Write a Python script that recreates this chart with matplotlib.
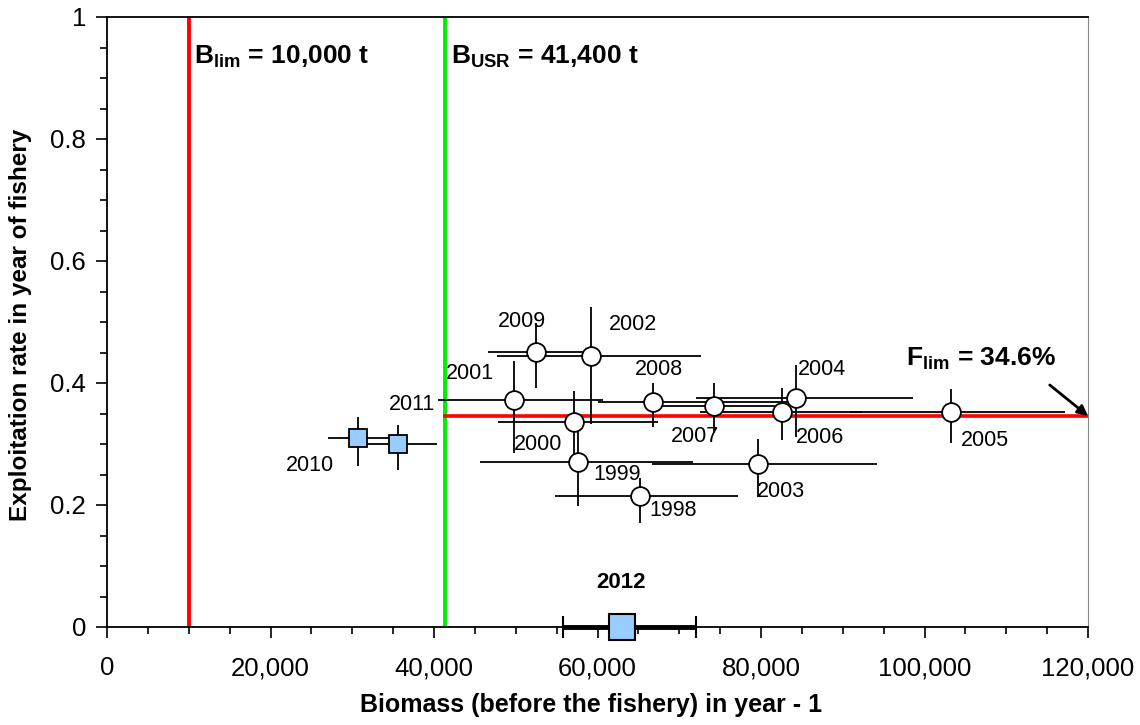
import numpy as np
import matplotlib
matplotlib.use("Agg")
import matplotlib.pyplot as plt
from matplotlib.ticker import MultipleLocator, FuncFormatter

plt.rcParams['font.family'] = ['Liberation Sans', 'DejaVu Sans']
plt.rcParams['mathtext.fontset'] = 'custom'
plt.rcParams['mathtext.bf'] = 'Liberation Sans:bold'
plt.rcParams['mathtext.rm'] = 'Liberation Sans'

# biomass (t) and exploitation rate by year, with lower/upper bounds
years = [1998, 1999, 2000, 2001, 2002, 2003, 2004, 2005, 2006, 2007, 2008, 2009]
biomass = [65200, 57600, 57100, 49800, 59200, 79600, 84300, 103300, 82600, 74200, 66800, 52500]
b_lo = [54800, 45600, 47800, 40500, 47700, 66700, 72000, 90900, 72500, 66000, 60000, 46600]
b_hi = [77200, 71700, 67400, 60700, 72600, 94200, 98600, 117200, 92400, 82600, 83500, 59000]
expl = [0.215, 0.270, 0.336, 0.372, 0.444, 0.267, 0.375, 0.352, 0.352, 0.362, 0.369, 0.451]
f_lo = [0.170, 0.198, 0.275, 0.285, 0.333, 0.213, 0.311, 0.302, 0.307, 0.318, 0.328, 0.392]
f_hi = [0.245, 0.335, 0.387, 0.436, 0.525, 0.308, 0.430, 0.390, 0.392, 0.400, 0.400, 0.498]

# recent years (squares)
years_sq = [2010, 2011]
biomass_sq = [30700, 35600]
bsq_lo = [27000, 31500]
bsq_hi = [34800, 40400]
expl_sq = [0.310, 0.300]
fsq_lo = [0.264, 0.257]
fsq_hi = [0.344, 0.331]

# current year biomass only
year_now = 2012
biomass_now = 63000
bnow_lo = 55800
bnow_hi = 72000

b_lim = 10000
b_usr = 41400
f_lim = 0.346

# label offsets in pixels
lab_off = {1998: (33, -15), 1999: (39, -12), 2000: (-36, -22), 2001: (-44, 27),
           2002: (42, 32), 2003: (23, -27), 2004: (26, 29), 2005: (33, -28),
           2006: (38, -25), 2007: (-19, -30), 2008: (6, 32), 2009: (-14, 30),
           2010: (-48, -28), 2011: (14, 40)}

fig = plt.figure(figsize=(11.4, 7.25), dpi=100)
ax = fig.add_axes([107/1140, 98/725, 981/1140, 610/725])

ax.axvline(b_lim, color='#ff0000', lw=2.8, zorder=2)
ax.axvline(b_usr, color='#00ee00', lw=2.8, zorder=2)
ax.plot([b_usr, 120000], [f_lim, f_lim], color='#ff0000', lw=2.6, zorder=2)

b = np.array(biomass); e = np.array(expl)
xerr = [b - np.array(b_lo), np.array(b_hi) - b]
yerr = [e - np.array(f_lo), np.array(f_hi) - e]
ax.errorbar(b, e, xerr=xerr, yerr=yerr, fmt='o', ms=13.5, mfc='white', mec='black',
            mew=1.3, ecolor='black', elinewidth=1.3, capsize=0, zorder=4)

bs = np.array(biomass_sq); es = np.array(expl_sq)
xerr = [bs - np.array(bsq_lo), np.array(bsq_hi) - bs]
yerr = [es - np.array(fsq_lo), np.array(fsq_hi) - es]
ax.errorbar(bs, es, xerr=xerr, yerr=yerr, fmt='s', ms=13.5, mfc='#99ccff', mec='black',
            mew=1.3, ecolor='black', elinewidth=1.3, capsize=0, zorder=4)

ax.errorbar([biomass_now], [0], xerr=[[biomass_now - bnow_lo], [bnow_hi - biomass_now]],
            fmt='s', ms=19, mfc='#99ccff', mec='black', mew=1.5, ecolor='black',
            elinewidth=3.5, capsize=8, capthick=3.5, zorder=5, clip_on=False)

for yr, x, y in zip(years + years_sq, biomass + biomass_sq, expl + expl_sq):
    ax.annotate(str(yr), (x, y), xytext=lab_off[yr], textcoords='offset pixels',
                ha='center', va='center', fontsize=15.5)
ax.annotate(str(year_now), (biomass_now, 0), xytext=(-1, 45), textcoords='offset pixels',
            ha='center', va='center', fontsize=16, fontweight='bold')

ax.text(b_lim + 700, 0.935, r'$\mathbf{B_{lim}}$ = 10,000 t', fontsize=19,
        fontweight='bold', va='center', ha='left')
ax.text(b_usr + 700, 0.935, r'$\mathbf{B_{USR}}$ = 41,400 t', fontsize=19,
        fontweight='bold', va='center', ha='left')
ax.annotate(r'$\mathbf{F_{lim}}$ = 34.6%', xy=(120000, f_lim), xytext=(106900, 0.44),
            fontsize=19, fontweight='bold', ha='center', va='center',
            arrowprops=dict(arrowstyle='-|>', color='black', lw=2, mutation_scale=15,
                            shrinkA=12, shrinkB=0, relpos=(0.85, 0)))

ax.set_xlim(0, 120000)
ax.set_ylim(0, 1)
ax.xaxis.set_major_locator(MultipleLocator(20000))
ax.xaxis.set_minor_locator(MultipleLocator(5000))
ax.yaxis.set_major_locator(MultipleLocator(0.2))
ax.yaxis.set_minor_locator(MultipleLocator(0.05))
ax.xaxis.set_major_formatter(FuncFormatter(lambda v, p: f'{v:,.0f}'))
ax.yaxis.set_major_formatter(FuncFormatter(lambda v, p: f'{v:g}'))
ax.tick_params(which='both', direction='out', labelsize=18.5, width=1.2)
ax.tick_params(which='major', length=8)
ax.tick_params(which='minor', length=5)
ax.tick_params(axis='x', which='major', pad=13)
ax.tick_params(axis='y', which='major', pad=7)
ax.spines['right'].set_color('#888888')
for s in ['left', 'bottom', 'top']:
    ax.spines[s].set_linewidth(1.3)

fig.text(591/1140, 1 - 705/725, 'Biomass (before the fishery) in year - 1', fontsize=18,
         fontweight='bold', ha='center', va='center')
fig.text(21/1140, 1 - 325/725, 'Exploitation rate in year of fishery', fontsize=17.5,
         fontweight='bold', ha='center', va='center', rotation=90)

plt.savefig('out.png', dpi=100)
